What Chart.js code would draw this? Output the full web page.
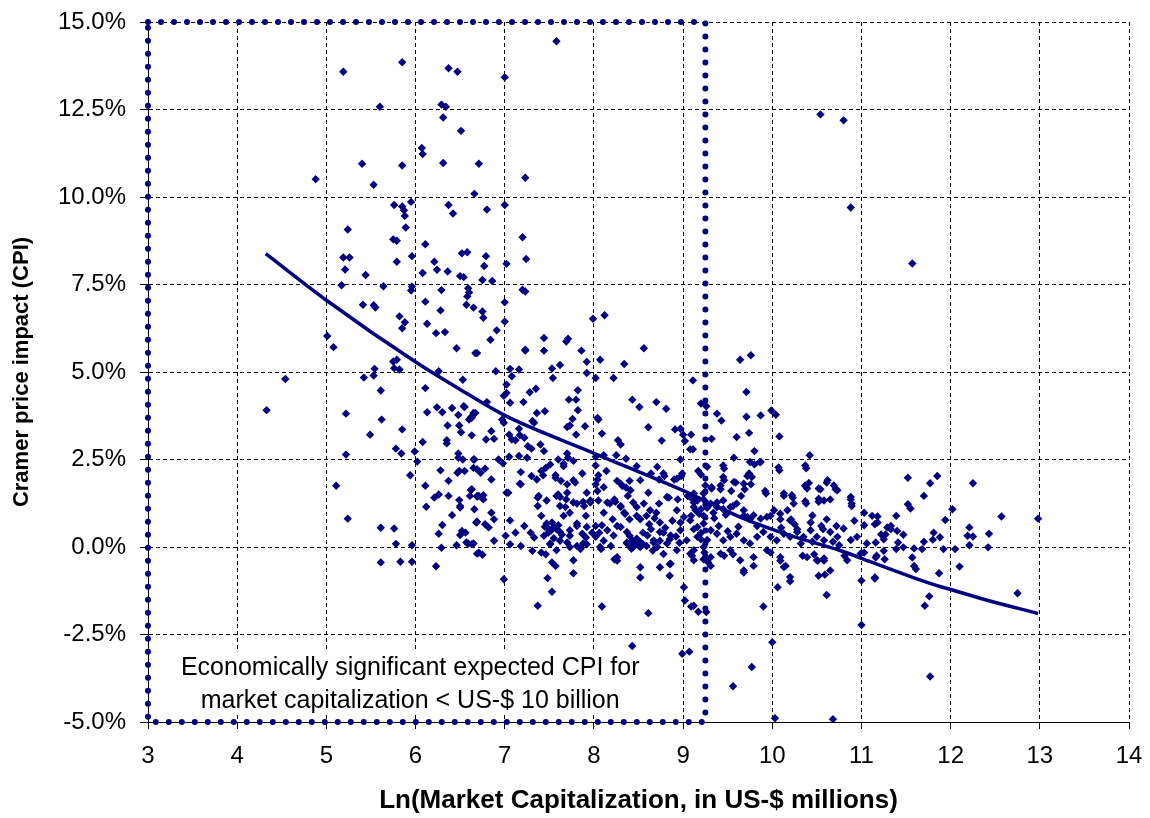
<!DOCTYPE html>
<html>
<head>
<meta charset="utf-8">
<script src="https://cdn.jsdelivr.net/npm/chart.js@4.4.0/dist/chart.umd.min.js"></script>
<style>
  html, body { margin: 0; padding: 0; background: #fff; }
</style>
</head>
<body>
<canvas id="cpiChart" width="1150" height="818"></canvas>
<script>
// [ln(market cap), CPI %]
const firmPoints = [
  [7.58,14.45],[5.19,13.58],[5.85,13.85],[6.37,13.68],[6.47,13.58],[7.00,13.42],[5.60,12.58],[6.29,12.64],[6.34,12.58],
  [6.31,12.27],[6.51,11.89],[6.07,11.40],[6.08,11.23],[5.40,10.95],[5.85,10.90],[6.31,10.97],[6.71,10.95],[7.23,10.55],
  [4.88,10.51],[5.53,10.35],[6.66,10.09],[5.76,9.77],[5.85,9.73],[5.87,9.62],[5.88,9.46],[5.95,9.86],[6.37,9.77],
  [6.42,9.53],[6.80,9.64],[7.00,9.77],[10.54,12.36],[10.80,12.19],[10.88,9.70],[11.57,8.10],
  [5.24,9.07],[5.89,9.13],[5.75,8.79],[5.79,8.75],[6.11,8.65],[7.20,8.85],[5.19,8.27],[5.26,8.27],[5.79,8.15],
  [5.96,8.31],[6.52,8.39],[6.58,8.42],[6.79,8.31],[7.24,8.23],[6.21,8.15],[5.21,7.93],[5.44,7.77],[6.08,7.83],
  [6.24,7.92],[6.36,7.87],[6.50,7.74],[6.54,7.71],[6.77,8.03],[7.02,8.09],[6.75,7.63],[6.86,7.60],[5.17,7.48],
  [5.64,7.45],[5.96,7.44],[5.95,7.33],[6.29,7.34],[6.59,7.39],[6.60,7.27],[6.58,7.16],[7.20,7.35],[7.23,7.30],
  [6.11,7.01],[5.41,6.92],[5.53,6.91],[5.55,6.84],[6.28,6.76],[6.57,6.92],[6.65,6.84],[6.75,6.73],[6.76,6.55],
  [7.00,6.99],[7.00,6.44],[5.82,6.59],[5.88,6.42],[5.85,6.25],[6.13,6.38],[6.23,6.11],[6.33,6.14],[6.91,6.19],
  [5.01,6.03],[5.08,5.71],[6.46,5.68],[6.67,5.54],[6.69,5.54],[6.84,5.92],[7.23,5.64],[5.54,5.09],[5.75,5.30],
  [5.79,5.35],[5.76,5.11],[5.82,5.07],[5.53,4.90],[6.26,5.02],[6.53,4.78],[6.90,5.02],[7.06,5.09],[7.16,5.07],
  [7.08,4.88],[4.54,4.80],[5.42,4.84],
  [4.33,3.91],[5.61,4.47],[6.11,4.54],[5.22,3.81],[5.62,3.64],[6.13,3.85],[6.24,3.99],[6.30,3.85],[6.41,3.97],
  [6.48,3.77],[6.54,4.02],[6.62,3.71],[6.67,3.83],[5.49,3.21],[5.85,3.36],[6.36,3.47],[6.49,3.47],[6.51,3.28],
  [6.08,3.00],[6.35,3.05],[6.35,2.96],[6.63,3.19],[5.22,2.64],[5.78,2.81],[5.84,2.67],[5.99,2.73],[6.02,2.44],
  [6.48,2.67],[6.48,2.55],[6.66,2.50],[5.94,2.05],[6.28,2.19],[6.47,2.12],[6.49,2.17],[6.69,2.22],[5.11,1.75],
  [6.11,1.75],[6.37,1.89],[6.62,1.63],[6.21,1.41],[6.26,1.50],[6.37,1.46],[6.49,1.34],[6.69,1.44],[6.12,1.15],
  [6.50,1.13],[6.66,1.08],[5.24,0.81],[6.41,0.91],[6.69,0.72],[6.30,0.63],[6.26,0.38],[6.52,0.46],[6.50,0.34],
  [5.61,0.55],[5.76,0.53],[5.78,0.09],[5.96,0.05],[6.29,-0.02],[6.46,0.05],[6.59,0.10],[6.63,0.08],[6.69,-0.19],
  [5.61,-0.44],[5.83,-0.42],[5.96,-0.42],[6.23,-0.55],
  [7.99,6.52],[8.12,6.62],[7.44,5.97],[7.69,5.87],[7.71,5.95],[8.56,5.68],[7.23,5.61],[7.44,5.61],[7.86,5.61],
  [7.62,5.20],[7.53,5.10],[7.54,4.83],[7.92,5.29],[7.92,4.97],[8.07,5.35],[8.34,5.23],[8.02,4.83],[8.22,4.83],
  [9.11,4.76],[7.02,4.64],[7.02,4.40],[6.99,4.32],[7.28,4.42],[7.35,4.52],[7.82,4.48],[7.72,4.21],[7.80,4.21],
  [7.06,4.12],[7.21,4.14],[8.43,4.21],[8.51,4.00],[8.70,4.14],[8.81,3.95],[6.55,4.00],[6.65,3.83],[6.63,3.69],
  [6.60,3.64],[6.80,4.14],[6.97,3.64],[6.99,3.55],[7.36,3.83],[7.45,3.88],[7.82,3.91],[7.76,3.66],[7.73,3.47],
  [7.70,3.43],[7.31,3.60],[7.33,3.55],[7.16,3.38],[7.17,3.19],[7.22,3.12],[7.12,3.05],[6.85,3.31],[6.88,3.09],
  [6.79,3.07],[7.05,3.21],[7.08,3.07],[7.90,3.45],[7.80,3.21],[8.04,3.69],[8.05,3.64],[8.09,3.24],[8.27,3.05],
  [8.30,2.93],[8.61,3.42],[8.76,3.04],[8.91,3.36],[8.97,3.38],[9.00,3.21],[9.09,3.21],[9.02,3.03],[9.08,2.79],
  [7.26,2.88],[7.30,2.81],[7.44,2.74],[7.40,2.93],[7.70,2.67],[6.65,2.50],[6.53,2.50],[6.93,2.50],[6.98,2.39],
  [7.05,2.58],[7.16,2.60],[7.25,2.55],[7.60,2.50],[7.71,2.55],[8.02,2.58],[8.11,2.62],[8.25,2.62],[8.36,2.52],
  [6.55,2.17],[6.65,2.26],[6.73,2.12],[6.78,2.24],[6.85,1.93],[7.18,2.14],[7.17,1.81],[7.30,2.03],[7.36,1.93],
  [7.41,2.17],[7.46,2.26],[7.51,2.36],[7.66,2.31],[7.77,2.46],[7.57,1.98],[7.63,1.89],[7.70,1.79],[7.79,1.84],
  [7.92,1.55],[8.02,1.79],[8.04,1.93],[8.14,2.17],[8.26,1.89],[8.40,1.89],[8.48,2.31],[8.64,2.10],[8.73,1.93],
  [8.79,2.03],[8.90,1.93],[8.97,2.50],[8.98,2.03],[9.17,2.17],[9.20,2.07],[6.63,1.65],[6.69,1.46],[6.76,1.48],
  [7.02,1.55],[7.38,1.46],[7.60,1.50],[7.69,1.36],[8.32,1.74],[8.36,1.70],[8.61,1.55],[8.84,1.41],
  [6.50,1.17],[6.61,1.46],[6.71,1.46],[6.76,1.36],[6.85,0.98],[6.68,0.70],[6.78,0.65],[6.82,0.56],[6.88,0.79],
  [6.56,0.41],[6.57,0.13],[6.65,0.10],[6.71,-0.16],[6.75,-0.22],[6.88,0.18],[7.04,1.55],[7.18,1.79],[7.37,1.41],
  [7.41,0.89],[7.37,1.17],[7.06,0.76],[7.22,0.60],[7.12,0.41],[7.01,0.32],[7.06,0.08],[7.18,0.03],[7.29,0.41],
  [7.33,0.27],[7.44,0.32],[7.31,-0.11],[7.41,-0.16],[7.46,-0.21],[7.53,-0.44],[7.57,-0.54],[6.99,-0.92],[7.48,-0.89],
  [7.53,-1.28],[7.77,-0.75],[7.37,-1.68],[7.53,0.70],[7.58,0.51],[7.49,0.41],[7.62,0.18],[7.70,0.13],[7.51,0.08],
  [7.66,0.89],[7.58,1.46],[7.70,1.55],[7.62,1.17],[7.77,1.27],[7.73,0.98],[7.81,0.60],[7.91,0.89],[7.89,1.17],
  [7.96,1.27],[7.73,0.32],[7.81,0.03],[7.85,-0.06],[7.92,0.08],[7.91,0.27],[7.98,0.41],[8.02,0.60],[8.04,1.60],
  [8.15,1.27],[8.23,1.36],[8.30,1.17],[8.11,0.98],[8.21,0.79],[8.26,0.60],[8.34,0.98],[8.40,0.79],[8.48,0.89],
  [8.38,1.46],[8.44,1.27],[8.06,0.41],[8.11,0.18],[8.19,0.03],[8.08,-0.06],[8.23,-0.35],[8.26,-0.39],[8.37,0.13],
  [8.44,0.08],[8.52,0.13],[8.59,0.03],[8.67,0.13],[8.74,0.18],[8.40,0.32],[8.55,0.41],[8.64,0.51],[8.74,0.70],
  [8.70,0.98],[8.59,0.89],[8.52,0.79],[8.78,0.41],[8.85,0.22],[8.52,-0.58],[8.52,-0.87],[8.74,-0.58],[8.85,-0.49],
  [8.85,-0.82],[8.09,-1.70],[8.61,-1.89],[8.43,-2.83],[8.99,-3.05],[9.07,-2.99],[9.01,-1.15],[9.02,-1.53],[9.09,-1.70],
  [9.17,-1.85],[8.94,1.36],[9.05,1.46],[9.12,1.27],[9.20,1.08],[9.09,0.89],[8.97,0.70],[9.12,0.51],[9.20,0.22],
  [9.24,-0.16],[9.28,-0.44],
  [9.64,5.35],[9.76,5.48],[9.71,4.43],[9.20,4.10],[9.26,4.02],[9.38,3.81],[9.43,3.61],[9.71,3.72],[9.87,3.76],
  [9.99,3.90],[10.04,3.78],[9.74,3.26],[9.60,3.14],[9.32,3.09],[10.08,3.16],[9.80,2.74],[9.11,2.79],[9.57,2.55],
  [9.46,2.24],[9.87,2.43],[9.80,2.36],[10.42,2.62],[10.08,2.19],[10.38,2.25],[9.46,1.91],[9.59,1.84],[9.72,2.03],
  [9.76,1.79],[9.32,1.67],[9.42,1.65],[9.54,1.60],[9.65,1.46],[9.69,1.65],[9.93,1.53],[10.13,1.46],[10.23,1.41],
  [10.37,1.74],[10.39,1.67],[10.54,1.65],[10.61,1.84],[10.71,1.65],[10.38,1.24],[10.52,1.29],[10.65,1.36],[10.88,1.36],
  [10.89,1.17],[9.12,1.36],[9.23,1.36],[9.38,1.27],[9.45,1.08],[9.56,1.17],[9.34,0.98],[9.23,0.89],[9.68,0.89],
  [9.75,0.79],[9.83,0.60],[9.98,0.89],[10.09,0.79],[10.21,0.79],[10.28,0.51],[10.43,0.70],[10.57,0.51],[10.61,0.79],
  [10.72,0.60],[11.03,0.98],[11.12,0.89],[11.18,0.70],[11.33,0.60],
  [9.12,-1.68],[9.26,-1.86],[9.90,-1.70],[10.06,-1.15],[10.20,-0.98],[10.61,-1.37],[10.52,-0.82],[10.59,-0.79],[11.00,-0.96],
  [11.15,-0.90],[11.00,-2.23],[10.00,-2.72],[9.77,-3.43],[9.56,-3.98],[10.03,-4.89],[10.68,-4.92],[10.09,-0.39],[10.15,-0.54],
  [9.68,-0.73],[9.31,-0.54],[9.23,-0.35],[9.10,-0.25],[9.46,-0.25],[9.56,-0.21],[9.79,-0.54],[9.98,-0.16],[10.34,-0.25],
  [10.47,-0.21],[10.51,-0.39],[10.58,-0.39],[10.81,-0.25],[11.03,-0.16],[11.17,-0.25],[11.26,-0.35],
  [11.52,1.98],[11.77,1.82],[11.85,2.03],[12.25,1.82],[11.70,1.46],[11.52,1.22],[11.55,1.10],[12.02,1.08],[11.94,0.77],
  [12.57,0.87],[12.98,0.81],[11.18,0.87],[11.15,0.65],[11.39,0.89],[11.47,0.35],[11.29,0.56],[11.27,0.36],[11.25,0.22],
  [11.33,0.51],[11.40,0.46],[11.22,0.36],[11.16,0.13],[11.41,0.13],[11.39,-0.06],[11.47,-0.01],[11.59,-0.04],[11.68,-0.06],
  [11.70,0.15],[11.81,0.41],[11.80,0.21],[11.88,0.28],[11.92,-0.06],[12.05,-0.06],[11.25,-0.11],[11.16,-0.30],[11.57,-0.30],
  [11.59,-0.54],[11.61,-0.63],[11.15,-0.87],[12.21,0.56],[12.19,0.32],[12.25,0.30],[12.21,0.05],[12.43,0.38],[12.42,-0.01],
  [12.10,-0.56],[11.87,-0.75],[12.75,-1.32],[11.76,-1.41],[11.71,-1.68],[11.77,-3.70],
  [9.27,2.29],[9.45,2.33],[9.75,2.43],[9.86,2.43],[10.07,2.27],[10.37,2.33],
  [9.25,1.76],[9.32,1.71],[9.42,1.76],[9.45,2.00],[9.57,1.86],[9.68,1.81],[9.74,2.10],[9.77,2.00],
  [9.92,1.60],[10.13,1.53],[10.22,1.48],[10.37,1.76],[10.41,1.83],[10.62,1.91],[10.69,1.76],[10.73,1.62],[10.52,1.67],
  [10.37,1.31],[10.52,1.38],[10.58,1.33],[10.88,1.43],[10.89,1.24],
  [9.08,1.43],[9.16,1.33],[9.23,1.53],[9.31,1.24],[9.38,1.14],[9.45,1.33],[9.53,1.14],[9.60,1.24],[9.68,1.05],
  [9.72,0.86],[9.79,0.91],[9.87,0.81],[9.94,0.86],[10.02,1.05],[10.09,0.95],[10.17,1.05],[10.24,1.24],[10.20,0.76],
  [9.08,0.76],[9.16,0.57],[9.23,0.67],[9.31,0.48],[9.38,0.38],[9.45,0.19],[9.53,0.29],[9.60,0.38],[9.68,0.19],
  [9.75,0.10],[9.83,0.29],[9.90,0.43],[9.98,0.29],[10.05,0.19],[10.13,0.38],[10.20,0.29],[10.28,0.43],[10.35,0.29],
  [10.43,0.48],[10.50,0.29],[10.58,0.19],[10.65,0.43],[10.73,0.29],[10.80,0.53],[10.95,0.29],[11.03,0.62],[11.06,0.10],
  [10.99,-0.19],[9.12,-0.09],[9.23,0.00],[9.31,-0.29],[9.42,-0.19],[9.53,-0.09],[9.64,-0.38],[9.68,-0.67],[9.79,-0.29],
  [9.94,-0.09],[10.09,-0.29],[10.13,-0.57],[10.20,-0.86],[10.39,-0.29],[10.50,-0.38],[10.58,-0.33],[10.65,-0.67],[10.84,-0.38],
  [9.12,-0.38],
  [7.43,2.05],[7.57,2.05],[7.66,2.38],[7.77,1.91],[7.87,2.10],[8.02,2.33],[8.05,2.05],[8.11,1.71],[8.30,1.81],
  [8.41,1.62],[8.52,1.91],[8.71,2.29],[8.78,2.10],[8.93,1.95],[8.99,2.10],[9.12,1.53],
  [7.47,1.33],[7.62,1.43],[7.68,1.14],[7.81,1.24],[7.88,1.29],[7.96,1.33],[8.05,1.33],[8.18,1.24],[8.24,1.29],
  [8.30,1.14],[8.35,0.95],[8.48,1.14],[8.56,1.24],[8.63,1.05],[8.73,1.24],[8.82,1.43],[8.93,1.05],[9.01,0.86],[9.12,1.14],
  [7.47,0.67],[7.55,0.57],[7.62,0.43],[7.73,0.48],[7.81,0.67],[7.87,0.38],[7.92,0.57],[8.02,0.29],[8.09,0.62],
  [8.15,0.48],[8.22,0.33],[8.30,0.57],[8.37,0.43],[8.43,0.19],[8.48,0.24],[8.52,0.14],[8.60,0.33],[8.67,0.19],
  [8.74,0.43],[8.86,0.33],[8.97,0.48],[9.04,0.19],[9.16,0.29],
  [7.51,0.10],[7.58,-0.09],[7.73,0.00],[7.88,0.10],[8.07,0.00],[8.26,-0.29],[8.37,0.10],[8.44,0.00],[8.48,0.10],
  [8.52,0.00],[8.71,0.00],[8.82,0.10],[8.93,-0.09],[9.08,-0.19],[7.77,-0.38],[8.86,-0.48],
  [8.40,0.05],[8.45,0.12],[8.50,0.05],[8.42,-0.05],[8.55,0.08],[8.46,0.18],[7.49,0.52],[7.52,0.47],[7.45,0.58],
  [7.60,0.62],[7.64,0.35],[7.55,0.25],[9.14,1.05],[9.18,0.95],[9.27,1.12],[9.35,0.82],[9.40,0.60],[9.48,0.92],
  [9.50,0.45],[9.62,0.58],[9.20,0.40],[9.27,0.20],[10.10,0.55],[10.25,0.65],[10.32,0.10],[10.45,0.15],[10.55,0.60],
  [10.68,0.15],[10.75,0.05],[10.88,0.20],[10.92,0.75],[10.45,0.90],[8.62,0.65],[8.68,0.82],[8.80,0.55],[8.88,0.75],
  [8.92,0.30],[8.96,0.12],[8.66,-0.10],[8.78,-0.20]
];

// fitted curve as drawn in the original
const trendX = [4.32, 5.00, 6.01, 6.50, 7.00, 8.01, 9.10, 9.68, 10.20, 10.76, 11.10, 11.76, 12.02, 12.41, 12.98];
const trendY = [8.38, 7.05, 5.27, 4.50, 3.76, 2.67, 1.50, 0.81, 0.33, -0.10, -0.42, -1.03, -1.23, -1.52, -1.90];

// dotted frame: market cap below US-$ 10 billion
const boxX = [3, 9.25, 9.25, 3, 3];
const boxY = [15, 15, -5, -5, 15];

const noteLines = ["Economically significant expected CPI for", "market capitalization < US-$ 10 billion"];

const navy = "#000080";
const fontFamily = '"Liberation Sans", Arial, sans-serif';

const notePlugin = {
  id: "note",
  beforeDatasetsDraw(chart) {
    const { ctx, scales } = chart;
    const x = scales.x, y = scales.y;
    ctx.save();
    ctx.fillStyle = "#fff";
    const left = x.getPixelForValue(3.13), right = x.getPixelForValue(8.92);
    const top = y.getPixelForValue(-2.96), bottom = y.getPixelForValue(-4.77);
    ctx.fillRect(left, top, right - left, bottom - top);
    ctx.fillStyle = "#000";
    ctx.font = "25px " + fontFamily;
    ctx.textAlign = "center";
    ctx.textBaseline = "middle";
    const cx = x.getPixelForValue(5.94);
    ctx.fillText(noteLines[0], cx, y.getPixelForValue(-3.47));
    ctx.fillText(noteLines[1], cx, y.getPixelForValue(-4.41));
    ctx.restore();
  },
};

// let the layout padding alone decide where the plot area sits
function noLabelPadding(scale) {
  scale.paddingTop = 0;
  scale.paddingBottom = 0;
  scale.paddingLeft = 0;
  scale.paddingRight = 0;
}

const ctx = document.getElementById("cpiChart").getContext("2d");

new Chart(ctx, {
  type: "scatter",
  data: {
    datasets: [
      {
        label: "Box",
        data: boxX.map((v, i) => ({ x: v, y: boxY[i] })),
        showLine: true,
        borderColor: navy,
        borderWidth: 6,
        borderDash: [0, 13],
        borderCapStyle: "round",
        pointRadius: 0,
        tension: 0,
        clip: false,
        order: 0,
      },
      {
        label: "Trend",
        data: trendX.map((v, i) => ({ x: v, y: trendY[i] })),
        showLine: true,
        borderColor: navy,
        borderWidth: 3.5,
        pointRadius: 0,
        cubicInterpolationMode: "monotone",
        order: 1,
      },
      {
        label: "CPI",
        data: firmPoints.map((p) => ({ x: p[0], y: p[1] })),
        pointStyle: "rectRot",
        pointRadius: 4.2,
        borderWidth: 0,
        backgroundColor: navy,
        borderColor: navy,
        order: 2,
      },
    ],
  },
  options: {
    responsive: false,
    animation: false,
    devicePixelRatio: 1,
    layout: { padding: { top: 22, right: 21, left: 0, bottom: 0 } },
    plugins: {
      legend: { display: false },
      tooltip: { enabled: false },
    },
    scales: {
      x: {
        type: "linear",
        min: 3,
        max: 14,
        afterFit: (scale) => { scale.height = 96; noLabelPadding(scale); },
        ticks: {
          stepSize: 1,
          color: "#000",
          padding: 13,
          font: { family: fontFamily, size: 24 },
        },
        grid: { color: "#000", lineWidth: 1, tickLength: 7, tickColor: "#000" },
        border: { display: true, color: "#000", width: 1, dash: [4, 3] },
        title: {
          display: true,
          text: "Ln(Market Capitalization, in US-$ millions)",
          color: "#000",
          font: { family: fontFamily, size: 26, weight: "bold" },
          padding: { top: 0, bottom: 2 },
        },
      },
      y: {
        type: "linear",
        min: -5,
        max: 15,
        afterFit: (scale) => { scale.width = 148; noLabelPadding(scale); },
        ticks: {
          stepSize: 2.5,
          color: "#000",
          padding: 14,
          font: { family: fontFamily, size: 24 },
          callback: (v) => v.toFixed(1) + "%",
        },
        grid: { color: "#000", lineWidth: 1, tickLength: 8, tickColor: "#000" },
        border: { display: true, color: "#000", width: 1, dash: [4, 3] },
        title: {
          display: true,
          text: "Cramer price impact (CPI)",
          color: "#000",
          font: { family: fontFamily, size: 22, weight: "bold" },
          padding: { top: 9, bottom: 0 },
        },
      },
    },
  },
  plugins: [notePlugin],
});
</script>
</body>
</html>
